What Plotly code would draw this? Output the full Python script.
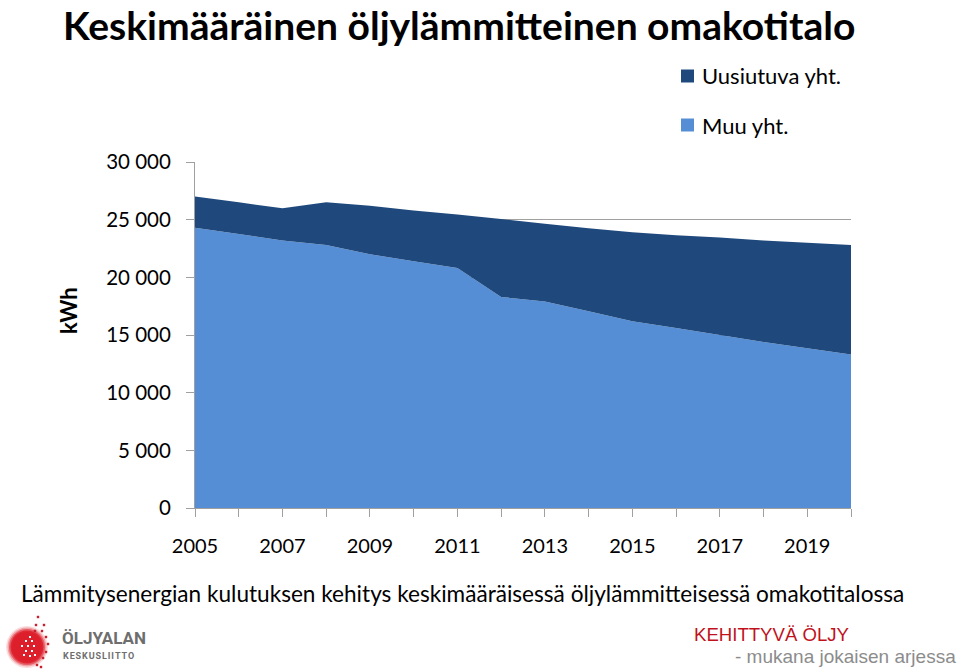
import plotly.graph_objects as go

# ---- data ----
years = list(range(2005, 2021))
muu_yht = [24300, 23750, 23200, 22800, 22000, 21400, 20800, 18300,
           17900, 17050, 16200, 15600, 15000, 14400, 13850, 13300]
uusiutuva_yht = [2700, 2750, 2800, 3700, 4200, 4400, 4650, 6750,
                 6750, 7200, 7700, 8050, 8450, 8800, 9150, 9500]
series_names = ["Uusiutuva yht.", "Muu yht."]
y_ticks = [0, 5000, 10000, 15000, 20000, 25000, 30000]
y_tick_labels = ["0", "5 000", "10 000", "15 000", "20 000", "25 000", "30 000"]
x_tick_years = [2005, 2007, 2009, 2011, 2013, 2015, 2017, 2019]

DARK = "#1F497D"
LIGHT = "#558ED5"
FONT = "Lato"

W, H = 960, 672
L, R, T, B = 195, 851, 162, 508


def px(x):
    return (x - L) / (R - L)


def py(y):
    return (B - y) / (B - T)


fig = go.Figure()
fig.add_trace(go.Scatter(x=years, y=muu_yht, name=series_names[1], stackgroup="s",
                         mode="none", fillcolor=LIGHT, showlegend=False))
fig.add_trace(go.Scatter(x=years, y=uusiutuva_yht, name=series_names[0], stackgroup="s",
                         mode="none", fillcolor=DARK, showlegend=False))

annotations = []
shapes = []

# title
annotations.append(dict(text="<b>Keskimääräinen öljylämmitteinen omakotitalo</b>",
                        x=px(61), y=py(0.5), xref="paper", yref="paper",
                        xanchor="left", yanchor="top", showarrow=False,
                        font=dict(family=FONT, size=39, color="#000000")))
# y axis title
annotations.append(dict(text="<b>kWh</b>", x=px(68), y=py(311), xref="paper", yref="paper",
                        xanchor="center", yanchor="middle", showarrow=False, textangle=-90,
                        font=dict(family=FONT, size=22, color="#000000")))
# legend
for i, (name, col) in enumerate(zip(series_names, [DARK, LIGHT])):
    cy = 76 + i * 49
    shapes.append(dict(type="rect", xref="paper", yref="paper",
                       x0=px(681), x1=px(694), y0=py(cy - 6.5), y1=py(cy + 6.5),
                       fillcolor=col, line=dict(width=0)))
    annotations.append(dict(text=name, x=px(700), y=py(cy), xref="paper", yref="paper",
                            xanchor="left", yanchor="middle", showarrow=False,
                            font=dict(family=FONT, size=22, color="#000000")))
# subtitle
annotations.append(dict(text="Lämmitysenergian kulutuksen kehitys keskimääräisessä öljylämmitteisessä omakotitalossa",
                        x=px(19), y=py(593), xref="paper", yref="paper",
                        xanchor="left", yanchor="middle", showarrow=False,
                        font=dict(family=FONT, size=22.6, color="#000000")))
# bottom right slogan
annotations.append(dict(text="KEHITTYVÄ ÖLJY", x=px(692), y=py(634), xref="paper", yref="paper",
                        xanchor="left", yanchor="middle", showarrow=False,
                        font=dict(family="Liberation Sans", size=18.6, color="#C0121C")))
annotations.append(dict(text="- mukana jokaisen arjessa", x=px(958), y=py(656), xref="paper", yref="paper",
                        xanchor="right", yanchor="middle", showarrow=False,
                        font=dict(family="Liberation Sans", size=19, color="#8C8C8C")))
# logo text
annotations.append(dict(text="<b>ÖLJYALAN</b>", x=px(60), y=py(638), xref="paper", yref="paper",
                        xanchor="left", yanchor="middle", showarrow=False,
                        font=dict(family="Roboto", size=17, color="#6E6E6E")))
annotations.append(dict(text="<b>" + "\u200a".join("KESKUSLIITTO") + "</b>", x=px(61), y=py(656),
                        xref="paper", yref="paper",
                        xanchor="left", yanchor="middle", showarrow=False,
                        font=dict(family="Roboto", size=9, color="#6E6E6E")))
# logo graphic: soft red disc
cx, cyy = 27, 647
for r, op in [(21, 0.15), (19.5, 0.3), (18, 0.55), (16.5, 0.85), (15, 1.0)]:
    shapes.append(dict(type="circle", xref="paper", yref="paper",
                       x0=px(cx - r), x1=px(cx + r), y0=py(cyy + r), y1=py(cyy - r),
                       fillcolor="#DD1F2B", opacity=op, line=dict(width=0)))
white_dots = [(30, 637), (26, 641), (32, 641), (22, 646), (28, 646), (34, 646),
              (26, 651), (32, 651), (30, 656), (35, 655), (24, 655)]
for (dx, dy) in white_dots:
    shapes.append(dict(type="rect", xref="paper", yref="paper",
                       x0=px(dx - 1), x1=px(dx + 1), y0=py(dy + 1), y1=py(dy - 1),
                       fillcolor="#FFFFFF", line=dict(width=0)))
red_dots = [(38, 617), (36, 625), (44, 625), (42, 631), (46, 637), (48, 644),
            (46, 652), (43, 658), (37, 665), (41, 667), (35, 631)]
for (dx, dy) in red_dots:
    shapes.append(dict(type="rect", xref="paper", yref="paper",
                       x0=px(dx - 1.2), x1=px(dx + 1.2), y0=py(dy + 1.2), y1=py(dy - 1.2),
                       fillcolor="#C8202E", line=dict(width=0)))

fig.update_layout(
    width=W, height=H,
    margin=dict(l=L, r=W - R, t=T, b=H - B, pad=0),
    paper_bgcolor="#FFFFFF", plot_bgcolor="#FFFFFF",
    showlegend=False,
    font=dict(family=FONT, size=20, color="#000000"),
    annotations=annotations, shapes=shapes,
    xaxis=dict(range=[2005, 2020], tickvals=x_tick_years, ticktext=[str(y) for y in x_tick_years],
               ticks="outside", ticklen=8, tickcolor="#A0A0A0", showgrid=False,
               showline=True, linecolor="#A0A0A0", linewidth=1, zeroline=False,
               ticklabelstandoff=12,
               minor=dict(dtick=1, tick0=2005, ticks="outside", ticklen=8, tickcolor="#A0A0A0", showgrid=False),
               tickfont=dict(family=FONT, size=20)),
    yaxis=dict(range=[0, 30000], tickvals=y_ticks, ticktext=y_tick_labels,
               ticks="outside", ticklen=8, tickcolor="#A0A0A0",
               showgrid=True, gridcolor="#A0A0A0", gridwidth=1,
               showline=True, linecolor="#A0A0A0", linewidth=1, zeroline=False,
               ticklabelstandoff=11,
               tickfont=dict(family=FONT, size=20.5)),
)

fig.write_html("out.html")
